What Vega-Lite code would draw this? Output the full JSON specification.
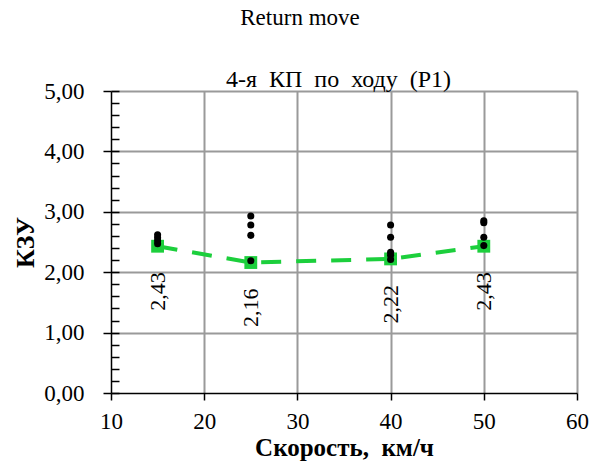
{
  "$schema": "https://vega.github.io/schema/vega-lite/v6.json",
  "autosize": "none",
  "width": 466,
  "height": 302,
  "padding": {"left": 111, "top": 91, "right": 24, "bottom": 78},
  "background": "white",
  "title": {
    "text": "Return move",
    "anchor": "middle",
    "dx": -44,
    "offset": 37,
    "font": "Liberation Serif",
    "fontSize": 23,
    "fontWeight": "normal",
    "color": "black"
  },
  "datasets": {
    "avg": [
      {"speed": 15, "kzu": 2.43},
      {"speed": 25, "kzu": 2.16},
      {"speed": 40, "kzu": 2.22},
      {"speed": 50, "kzu": 2.43}
    ],
    "obs": [
      {"speed": 15, "kzu": 2.47},
      {"speed": 15, "kzu": 2.52},
      {"speed": 15, "kzu": 2.57},
      {"speed": 15, "kzu": 2.62},
      {"speed": 25, "kzu": 2.19},
      {"speed": 25, "kzu": 2.61},
      {"speed": 25, "kzu": 2.78},
      {"speed": 25, "kzu": 2.93},
      {"speed": 40, "kzu": 2.21},
      {"speed": 40, "kzu": 2.28},
      {"speed": 40, "kzu": 2.33},
      {"speed": 40, "kzu": 2.58},
      {"speed": 40, "kzu": 2.78},
      {"speed": 50, "kzu": 2.44},
      {"speed": 50, "kzu": 2.58},
      {"speed": 50, "kzu": 2.82},
      {"speed": 50, "kzu": 2.85}
    ]
  },
  "resolve": {"axis": {"x": "independent", "y": "independent"}},
  "layer": [
    {
      "data": {"name": "avg"},
      "mark": {"type": "line", "color": "#1ccf3c", "strokeWidth": 4, "strokeDash": [20, 15]},
      "encoding": {
        "x": {
          "field": "speed", "type": "quantitative",
          "scale": {"domain": [10, 60], "nice": false},
          "axis": {"orient": "bottom", "values": [20, 30, 40, 50, 60], "grid": true, "ticks": false, "labels": false, "domain": false, "title": null}
        },
        "y": {
          "field": "kzu", "type": "quantitative",
          "scale": {"domain": [0, 5], "nice": false},
          "axis": {"orient": "left", "values": [1, 2, 3, 4, 5], "grid": true, "ticks": false, "labels": false, "domain": false, "title": null}
        }
      }
    },
    {
      "data": {"name": "avg"},
      "mark": {"type": "square", "color": "#1ccf3c", "filled": true, "opacity": 1, "size": 165},
      "encoding": {
        "x": {
          "field": "speed", "type": "quantitative",
          "scale": {"domain": [10, 60], "nice": false},
          "axis": {"orient": "top", "grid": false, "ticks": false, "labels": false, "domain": false,
                   "title": "4-я\u00a0 КП\u00a0 по\u00a0 ходу\u00a0 (Р1)", "titleFontWeight": "normal", "titleFontSize": 24,
                   "titleBaseline": "alphabetic", "titlePadding": 5, "titleX": 227}
        },
        "y": {
          "field": "kzu", "type": "quantitative",
          "scale": {"domain": [0, 5], "nice": false},
          "axis": {"orient": "left", "values": [0, 1, 2, 3, 4, 5], "grid": false, "format": ".2f",
                   "tickSize": 8, "labelPadding": 19, "title": "КЗУ", "titleFontSize": 26, "titlePadding": 5}
        }
      }
    },
    {
      "data": {"name": "obs"},
      "mark": {"type": "circle", "color": "black", "opacity": 1, "size": 50},
      "encoding": {
        "x": {
          "field": "speed", "type": "quantitative",
          "scale": {"domain": [10, 60], "nice": false},
          "axis": {"orient": "bottom", "values": [10, 20, 30, 40, 50, 60], "grid": false,
                   "tickSize": 7, "labelPadding": 10, "title": "Скорость,\u00a0 км/ч", "titleFontSize": 25, "titlePadding": 2}
        },
        "y": {
          "field": "kzu", "type": "quantitative",
          "scale": {"domain": [0, 5], "nice": false},
          "axis": {"orient": "left", "grid": false, "labels": false, "domain": false, "title": null, "tickSize": -8,
                   "values": [0, 0.2, 0.4, 0.6, 0.8, 1, 1.2, 1.4, 1.6, 1.8, 2, 2.2, 2.4, 2.6, 2.8, 3, 3.2, 3.4, 3.6, 3.8, 4, 4.2, 4.4, 4.6, 4.8, 5]}
        }
      }
    },
    {
      "data": {"name": "avg"},
      "mark": {"type": "text", "angle": 270, "align": "right", "baseline": "middle", "dx": -26,
               "font": "Liberation Serif", "fontSize": 22, "color": "black"},
      "encoding": {
        "x": {"field": "speed", "type": "quantitative", "scale": {"domain": [10, 60], "nice": false}, "axis": null},
        "y": {"field": "kzu", "type": "quantitative", "scale": {"domain": [0, 5], "nice": false}, "axis": null},
        "text": {"field": "kzu", "type": "quantitative", "format": ".2f"}
      }
    }
  ],
  "config": {
    "locale": {
      "number": {"decimal": ",", "thousands": "\u00a0", "grouping": [3], "currency": ["", ""]}
    },
    "view": {"stroke": null},
    "axis": {
      "labelFont": "Liberation Serif",
      "labelFontSize": 23,
      "labelColor": "black",
      "titleFont": "Liberation Serif",
      "titleFontSize": 24,
      "titleFontWeight": "bold",
      "titleColor": "black",
      "domainColor": "black",
      "domainWidth": 1.5,
      "tickColor": "black",
      "tickWidth": 1.5,
      "gridColor": "#9a9a9a",
      "gridWidth": 2,
      "gridOpacity": 1,
      "labelFlush": false,
      "labelOverlap": false
    }
  }
}
